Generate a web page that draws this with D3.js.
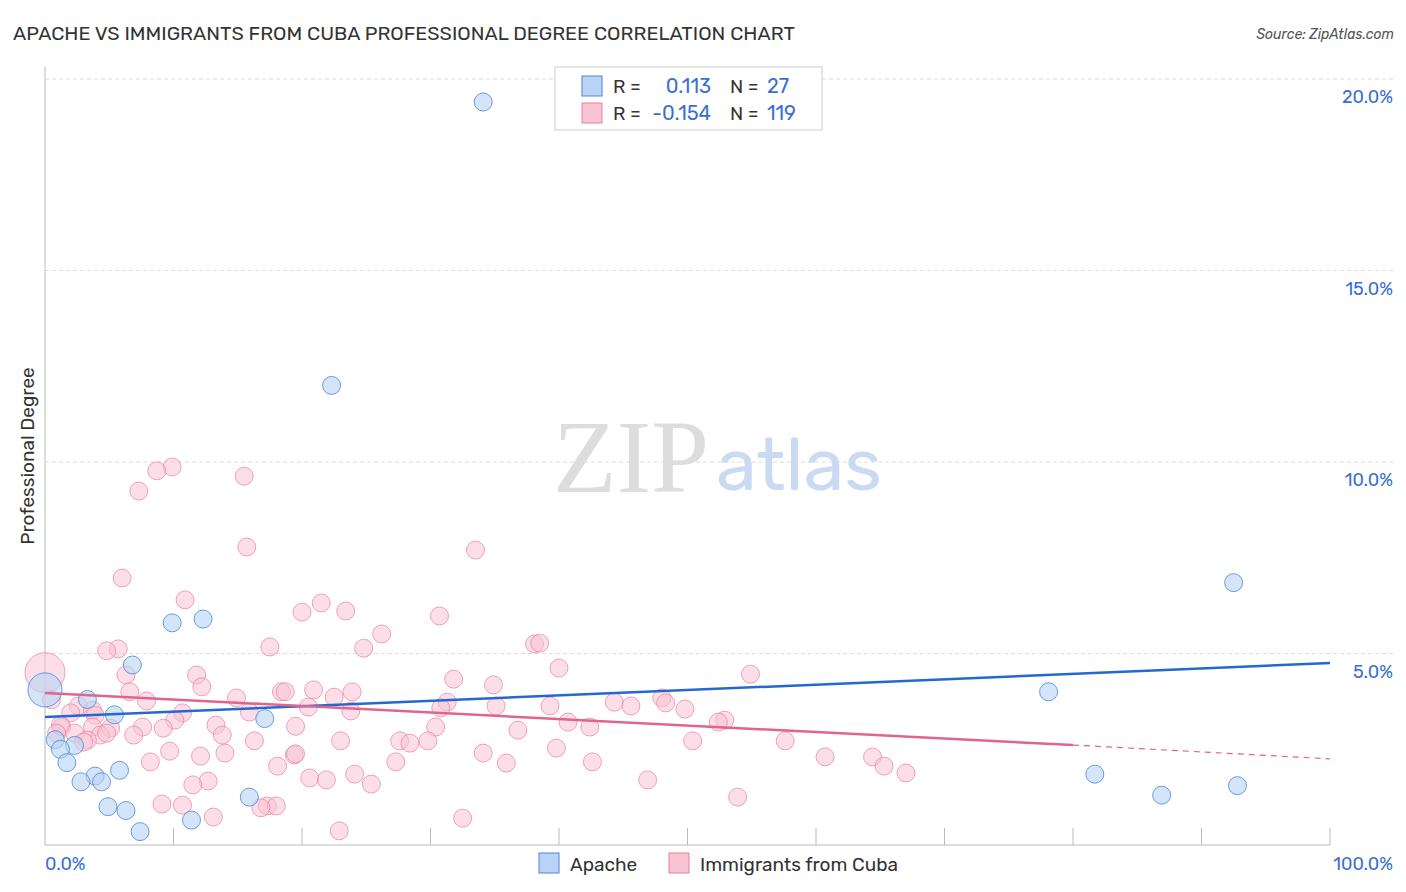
<!DOCTYPE html><html><head><meta charset="utf-8"><script src="https://cdn.jsdelivr.net/npm/d3@7"></script>
<style>body{margin:0;background:#fff;font-family:"Rubik","Noto Sans",sans-serif}</style></head><body><svg id="c" width="1406" height="892"></svg><script>
const apacheX=[34.1,22.3,92.5,9.9,12.3,6.8,0,3.3,5.4,17.1,0.8,2.3,1.2,1.7,3.9,2.8,4.4,5.8,15.9,4.9,6.3,11.4,7.4,78.1,81.7,86.9,92.8];
const apacheY=[19.4,12.0,6.85,5.8,5.9,4.7,4.05,3.8,3.4,3.3,2.75,2.6,2.5,2.15,1.8,1.65,1.65,1.95,1.25,1.0,0.9,0.65,0.35,4.0,1.85,1.3,1.55];
const apacheR=[9,9,9,9,9,9,17,9,9,9,9,9,9,9,9,9,9,9,9,9,9,9,9,9,9,9,9];
const cubaX=[9.9,8.7,15.5,7.3,15.7,33.5,6.0,10.9,21.5,20.0,23.4,30.7,26.2,38.1,38.5,17.5,5.7,4.8,24.8,40.0,54.9,11.8,6.3,31.8,12.2,34.9,0,6.6,18.4,18.7,20.9,23.9,22.5,14.9,7.9,48.0,48.3,44.3,45.6,31.3,30.8,35.1,39.3,49.8,20.5,2.6,0.5,3.7,10.7,15.9,23.8,3.9,10.1,52.9,52.4,2.0,40.7,42.4,30.4,36.8,5.1,7.6,19.5,13.3,9.2,1.3,3.7,2.3,13.8,4.3,6.9,3.3,4.8,16.3,23.0,29.8,27.6,28.4,50.4,57.6,3.0,9.7,14.0,19.4,19.5,12.1,34.1,39.8,64.4,60.7,65.3,67.0,8.2,27.3,35.9,42.6,18.1,24.1,20.6,21.9,12.7,11.5,25.4,46.9,9.1,10.7,17.3,18.0,16.8,13.1,22.9,32.5,53.9,1.2,0.9];
const cubaY=[9.87,9.77,9.63,9.24,7.78,7.7,6.97,6.4,6.32,6.08,6.11,5.98,5.51,5.25,5.27,5.17,5.12,5.07,5.14,4.62,4.46,4.44,4.44,4.33,4.13,4.18,4.5,4.0,4.0,4.0,4.05,4.0,3.86,3.84,3.76,3.84,3.71,3.73,3.63,3.73,3.58,3.63,3.63,3.55,3.6,3.63,3.79,3.52,3.45,3.47,3.5,3.39,3.26,3.26,3.21,3.45,3.21,3.08,3.08,3.0,3.05,3.08,3.1,3.13,3.05,3.08,3.08,2.92,2.87,2.87,2.87,2.74,2.92,2.72,2.72,2.72,2.72,2.66,2.72,2.72,2.69,2.45,2.4,2.35,2.38,2.32,2.4,2.53,2.3,2.3,2.06,1.88,2.17,2.17,2.14,2.17,2.06,1.85,1.75,1.7,1.67,1.57,1.59,1.7,1.07,1.04,1.02,1.02,0.97,0.73,0.37,0.7,1.25,3.13,2.92];
const apacheTrend=[[0,3.34],[100,4.75]];
const cubaTrend=[[0,3.97],[80,2.61],[100,2.25]];
const yTicks=[5,10,15,20];
const xTicks=[0,10,20,30,40,50,60,70,80,90,100];
const legend=[{name:"Apache",r:"0.113",n:"27"},{name:"Immigrants from Cuba",r:"-0.154",n:"119"}];
const blue="#4a86d8",blueF="#b8d3f5",pink="#e87fa0",pinkF="#f8c3d3";
const svg=d3.select("#c");
const x=d3.scaleLinear().domain([0,100]).range([45,1330]);
const y=d3.scaleLinear().domain([0,20]).range([845,79]);
svg.append("text").attr("x",13).attr("y",40).attr("font-size",18).attr("textLength",782).attr("lengthAdjust","spacingAndGlyphs").attr("fill","#333").text("APACHE VS IMMIGRANTS FROM CUBA PROFESSIONAL DEGREE CORRELATION CHART");
svg.append("text").attr("x",1394).attr("y",39).attr("text-anchor","end").attr("font-size",14).attr("font-style","italic").attr("fill","#555").text("Source: ZipAtlas.com");
yTicks.forEach(t=>{svg.append("line").attr("x1",45).attr("x2",1393).attr("y1",y(t)).attr("y2",y(t)).attr("stroke","#ddd").attr("stroke-dasharray","4,3");
svg.append("text").attr("x",1393).attr("y",y(t)+24).attr("text-anchor","end").attr("font-size",18).attr("fill","#3a6fd0").text(t.toFixed(1)+"%");});
svg.append("line").attr("x1",45).attr("x2",45).attr("y1",67).attr("y2",845).attr("stroke","#bbb");
svg.append("line").attr("x1",45).attr("x2",1330).attr("y1",845).attr("y2",845).attr("stroke","#bbb");
xTicks.slice(1).forEach(t=>svg.append("line").attr("x1",x(t)).attr("x2",x(t)).attr("y1",828).attr("y2",845).attr("stroke","#bbb"));
svg.append("text").attr("x",45).attr("y",870).attr("font-size",18).attr("fill","#3a6fd0").text("0.0%");
svg.append("text").attr("x",1393).attr("y",870).attr("text-anchor","end").attr("font-size",18).attr("fill","#3a6fd0").text("100.0%");
svg.append("text").attr("transform","translate(34,456) rotate(-90)").attr("text-anchor","middle").attr("font-size",19).attr("fill","#333").text("Professional Degree");
svg.append("text").attr("x",553).attr("y",492).attr("font-size",104).attr("font-family","Liberation Serif,serif").attr("fill","#ddd").text("ZIP");
svg.append("text").attr("x",716).attr("y",490).attr("font-size",74).attr("fill","#c9daf2").text("atlas");
svg.append("g").selectAll("circle").data(cubaX.map((v,i)=>[v,cubaY[i],i===26?20:9])).join("circle")
 .attr("cx",d=>x(d[0])).attr("cy",d=>y(d[1])).attr("r",d=>d[2]).attr("fill",pinkF).attr("fill-opacity",0.55).attr("stroke",pink).attr("stroke-opacity",0.7);
svg.append("g").selectAll("circle").data(apacheX.map((v,i)=>[v,apacheY[i],apacheR[i]])).join("circle")
 .attr("cx",d=>x(d[0])).attr("cy",d=>y(d[1])).attr("r",d=>d[2]).attr("fill",blueF).attr("fill-opacity",0.6).attr("stroke",blue).attr("stroke-opacity",0.8);
const ln=d3.line().x(d=>x(d[0])).y(d=>y(d[1]));
svg.append("path").attr("d",ln(apacheTrend)).attr("stroke","#2468d0").attr("stroke-width",2.5).attr("fill","none");
svg.append("path").attr("d",ln(cubaTrend.slice(0,2))).attr("stroke","#e0648e").attr("stroke-width",2.5).attr("fill","none");
svg.append("path").attr("d",ln(cubaTrend.slice(1))).attr("stroke","#e0648e").attr("stroke-width",1.2).attr("stroke-dasharray","6,5").attr("fill","none");
const lg=svg.append("g");
lg.append("rect").attr("x",555).attr("y",67).attr("width",267).attr("height",63).attr("fill","#fff").attr("stroke","#ccc");
legend.forEach((l,i)=>{const yy=86+i*27;
lg.append("rect").attr("x",582).attr("y",yy-10).attr("width",20).attr("height",20).attr("fill",i?pinkF:blueF).attr("stroke",i?pink:blue);
lg.append("text").attr("x",613).attr("y",yy+7).attr("font-size",19).attr("fill","#333").text("R =");
lg.append("text").attr("x",711).attr("y",yy+7).attr("text-anchor","end").attr("font-size",20).attr("fill","#3a6fd0").text(l.r);
lg.append("text").attr("x",730).attr("y",yy+7).attr("font-size",19).attr("fill","#333").text("N =");
lg.append("text").attr("x",767).attr("y",yy+7).attr("font-size",20).attr("fill","#3a6fd0").text(l.n);
const bx=i?669:539;
svg.append("rect").attr("x",bx).attr("y",853).attr("width",20).attr("height",20).attr("fill",i?pinkF:blueF).attr("stroke",i?pink:blue);
svg.append("text").attr("x",bx+31).attr("y",871).attr("font-size",19).attr("fill","#333").text(l.name);});
</script></body></html>
